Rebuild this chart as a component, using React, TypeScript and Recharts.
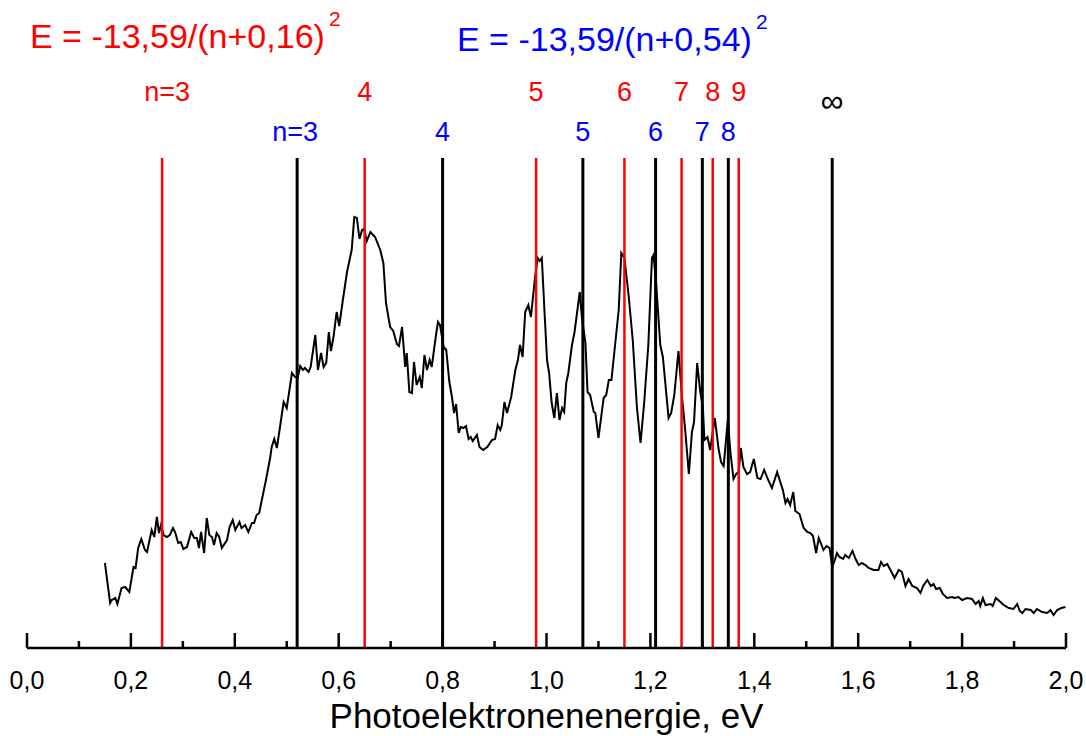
import React from 'react';
import { LineChart, Line, XAxis, YAxis, ReferenceLine } from 'recharts';

// Photoelectron energy (eV) and intensity (arbitrary units)
const energies = [
  0.150, 0.160, 0.163, 0.170, 0.174, 0.182, 0.189, 0.197, 0.205, 0.209, 0.214, 0.220, 0.227, 0.231, 0.240, 0.245,
  0.250, 0.254, 0.258, 0.263, 0.269, 0.275, 0.281, 0.285, 0.291, 0.296, 0.301, 0.308, 0.316, 0.322, 0.327, 0.331,
  0.335, 0.341, 0.346, 0.351, 0.356, 0.360, 0.365, 0.370, 0.375, 0.385, 0.390, 0.396, 0.401, 0.409, 0.413, 0.420,
  0.426, 0.433, 0.437, 0.442, 0.447, 0.452, 0.460, 0.468, 0.471, 0.476, 0.481, 0.487, 0.494, 0.500, 0.510, 0.516,
  0.521, 0.526, 0.531, 0.535, 0.542, 0.546, 0.555, 0.560, 0.566, 0.571, 0.576, 0.581, 0.585, 0.590, 0.596, 0.601,
  0.608, 0.616, 0.625, 0.630, 0.635, 0.640, 0.645, 0.649, 0.654, 0.661, 0.670, 0.680, 0.686, 0.691, 0.699, 0.705,
  0.712, 0.716, 0.722, 0.728, 0.731, 0.736, 0.741, 0.745, 0.750, 0.756, 0.760, 0.765, 0.770, 0.775, 0.779, 0.786,
  0.791, 0.795, 0.802, 0.807, 0.813, 0.818, 0.822, 0.826, 0.831, 0.835, 0.840, 0.845, 0.850, 0.854, 0.858, 0.866,
  0.871, 0.878, 0.886, 0.895, 0.901, 0.906, 0.911, 0.914, 0.919, 0.924, 0.932, 0.940, 0.945, 0.949, 0.954, 0.959,
  0.965, 0.970, 0.974, 0.978, 0.983, 0.987, 0.991, 0.996, 1.001, 1.005, 1.010, 1.015, 1.020, 1.025, 1.030, 1.034,
  1.038, 1.042, 1.049, 1.054, 1.064, 1.068, 1.075, 1.079, 1.084, 1.091, 1.094, 1.100, 1.110, 1.115, 1.120, 1.125,
  1.132, 1.139, 1.144, 1.150, 1.158, 1.166, 1.174, 1.181, 1.188, 1.196, 1.203, 1.206, 1.211, 1.219, 1.224, 1.235,
  1.240, 1.246, 1.254, 1.261, 1.267, 1.274, 1.280, 1.284, 1.290, 1.296, 1.301, 1.304, 1.310, 1.315, 1.324, 1.331,
  1.336, 1.341, 1.349, 1.354, 1.360, 1.365, 1.370, 1.374, 1.379, 1.386, 1.392, 1.399, 1.406, 1.412, 1.419, 1.426,
  1.434, 1.444, 1.450, 1.455, 1.460, 1.464, 1.469, 1.475, 1.479, 1.487, 1.495, 1.502, 1.508, 1.513, 1.519, 1.524,
  1.528, 1.533, 1.539, 1.545, 1.550, 1.555, 1.559, 1.564, 1.571, 1.575, 1.582, 1.589, 1.595, 1.601, 1.607, 1.614,
  1.620, 1.630, 1.639, 1.644, 1.649, 1.656, 1.663, 1.670, 1.678, 1.684, 1.691, 1.697, 1.704, 1.713, 1.720, 1.725,
  1.733, 1.740, 1.745, 1.750, 1.757, 1.763, 1.771, 1.781, 1.785, 1.793, 1.800, 1.810, 1.819, 1.826, 1.832, 1.835,
  1.840, 1.845, 1.855, 1.859, 1.865, 1.874, 1.880, 1.890, 1.899, 1.906, 1.911, 1.916, 1.922, 1.932, 1.938, 1.944,
  1.954, 1.964, 1.970, 1.976, 1.983, 1.991, 1.999,
];

const intensities = [
  85, 45, 48, 50, 44, 60, 61, 56, 81, 80, 100, 109, 98, 96, 118, 111,
  131, 115, 123, 113, 111, 113, 120, 116, 105, 106, 99, 101, 116, 110, 110, 100,
  116, 95, 130, 113, 111, 103, 115, 111, 100, 108, 121, 128, 118, 126, 120, 123,
  116, 125, 125, 133, 135, 148, 168, 190, 201, 209, 200, 221, 246, 240, 275, 271,
  270, 282, 278, 280, 276, 281, 313, 278, 295, 281, 285, 316, 297, 311, 336, 322,
  348, 376, 398, 431, 430, 409, 418, 419, 407, 416, 411, 398, 385, 345, 321, 317,
  304, 302, 321, 281, 295, 256, 255, 286, 263, 271, 260, 293, 278, 288, 281, 308,
  326, 323, 301, 298, 266, 251, 235, 244, 215, 221, 220, 222, 209, 211, 207, 213,
  201, 198, 201, 208, 209, 223, 218, 223, 246, 235, 251, 278, 288, 303, 291, 336,
  343, 331, 351, 371, 390, 387, 390, 338, 288, 275, 245, 230, 255, 228, 240, 236,
  265, 275, 303, 316, 356, 331, 305, 256, 253, 236, 235, 210, 250, 253, 268, 268,
  303, 338, 395, 390, 353, 308, 241, 205, 245, 303, 390, 393, 365, 303, 291, 230,
  235, 253, 297, 250, 218, 174, 216, 226, 285, 256, 241, 208, 211, 198, 230, 200,
  186, 182, 228, 196, 169, 174, 176, 200, 181, 174, 176, 189, 170, 169, 178, 169,
  160, 176, 166, 158, 145, 149, 143, 156, 137, 134, 120, 116, 115, 112, 95, 110,
  105, 98, 102, 100, 81, 88, 95, 91, 89, 93, 90, 97, 89, 83, 85, 83,
  80, 78, 78, 86, 82, 84, 77, 70, 78, 76, 62, 69, 62, 60, 55, 62,
  68, 62, 64, 59, 60, 54, 50, 51, 50, 51, 48, 50, 49, 44, 47, 42,
  50, 43, 44, 42, 50, 46, 43, 40, 39, 44, 37, 35, 39, 38, 35, 39,
  36, 35, 38, 33, 38, 40, 41,
];

const xTicks = [0, 0.1, 0.2, 0.3, 0.4, 0.5, 0.6, 0.7, 0.8, 0.9, 1.0, 1.1, 1.2, 1.3, 1.4, 1.5, 1.6, 1.7, 1.8, 1.9, 2.0];

// Levels from E = -13,59/(n+0,16)^2  (red)
const redLevels = [0.26, 0.65, 0.98, 1.15, 1.26, 1.32, 1.37];
const redLabels = ['n=3', '4', '5', '6', '7', '8', '9'];
// Levels from E = -13,59/(n+0,54)^2  (black lines, blue labels)
const blueLevels = [0.52, 0.80, 1.07, 1.21, 1.30, 1.35];
const blueLabels = ['n=3', '4', '5', '6', '7', '8'];
const limitLevel = 1.55;
const limitLabel = '∞';

const data = energies.map((e, i) => ({ e, v: intensities[i] }));

const FONT = '"Liberation Sans", Arial, sans-serif';

const AxisTick = (props: any) => {
  const { x, y, payload } = props;
  const val = payload.value as number;
  const major = Math.round(val * 10) % 2 === 0;
  return (
    <g>
      <line x1={x} x2={x} y1={y} y2={y - (major ? 15 : 7)} stroke="#000" strokeWidth={2.5} />
      {major && (
        <text x={x} y={y + 41} textAnchor="middle" fontSize={25} fontFamily={FONT} fill="#000">
          {val.toFixed(1).replace('.', ',')}
        </text>
      )}
    </g>
  );
};

export default function App() {
  return (
    <div style={{ position: 'absolute', left: 0, top: 0, width: 1086, height: 736, background: '#fff' }}>
      <LineChart
        width={1086}
        height={736}
        data={data}
        margin={{ top: 158, right: 20, bottom: 0, left: 27 }}
      >
        <XAxis
          dataKey="e"
          type="number"
          domain={[0, 2]}
          ticks={xTicks}
          interval={0}
          tickSize={0}
          tickMargin={0}
          tickLine={false}
          tick={<AxisTick />}
          height={88}
          axisLine={{ stroke: '#000', strokeWidth: 2.5 }}
          label={{
            value: 'Photoelektronenenergie, eV',
            position: 'insideBottom',
            offset: 8,
            fontSize: 35,
            fontFamily: FONT,
            fill: '#000',
          }}
        />
        <YAxis hide type="number" domain={[0, 490]} />
        <Line
          type="linear"
          dataKey="v"
          stroke="#000"
          strokeWidth={2}
          dot={false}
          isAnimationActive={false}
        />
        {redLevels.map((x, i) => (
          <ReferenceLine
            key={'r' + i}
            x={x}
            stroke="#ff0000"
            strokeWidth={2.5}
            label={{
              value: redLabels[i],
              position: 'top',
              offset: 57,
              dx: i === 0 ? 5 : 0,
              fill: '#ff0000',
              fontSize: 27,
              fontFamily: FONT,
            }}
          />
        ))}
        {blueLevels.map((x, i) => (
          <ReferenceLine
            key={'b' + i}
            x={x}
            stroke="#000"
            strokeWidth={3}
            label={{
              value: blueLabels[i],
              position: 'top',
              offset: 17,
              dx: i === 0 ? -2 : 0,
              fill: '#0000ff',
              fontSize: 27,
              fontFamily: FONT,
            }}
          />
        ))}
        <ReferenceLine
          x={limitLevel}
          stroke="#000"
          strokeWidth={3}
          label={{
            value: limitLabel,
            position: 'top',
            offset: 46,
            fill: '#000',
            fontSize: 32,
            fontFamily: FONT,
          }}
        />
      </LineChart>
      <svg
        width={1086}
        height={80}
        style={{ position: 'absolute', left: 0, top: 0, pointerEvents: 'none' }}
      >
        <text x={30} y={48} fontSize={34} fontFamily={FONT} fill="#ff0000">
          E = -13,59/(n+0,16)
          <tspan dx={4} dy={-22} fontSize={21}>2</tspan>
        </text>
        <text x={457} y={51} fontSize={34} fontFamily={FONT} fill="#0000ff">
          E = -13,59/(n+0,54)
          <tspan dx={4} dy={-22} fontSize={21}>2</tspan>
        </text>
      </svg>
    </div>
  );
}
